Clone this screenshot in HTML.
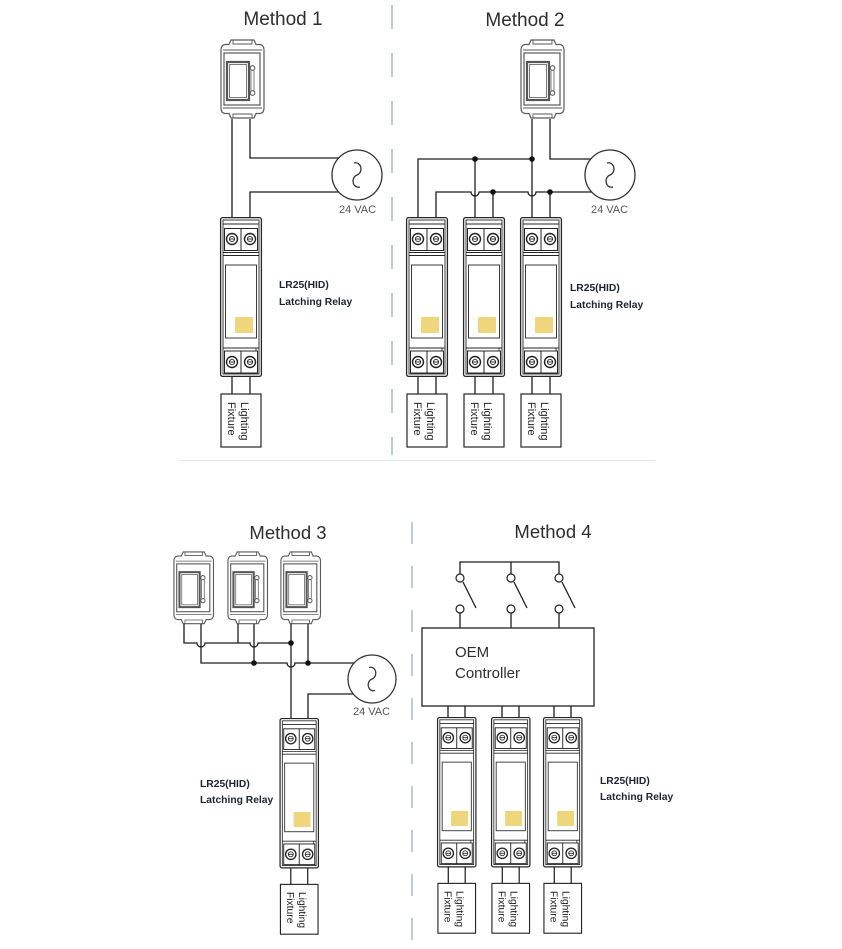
<!DOCTYPE html>
<html><head><meta charset="utf-8"><title>Wiring Methods</title>
<style>
html,body{margin:0;padding:0;background:#fff;width:842px;height:949px;overflow:hidden}
svg{display:block}
.t{font-family:"Liberation Sans",Arial,sans-serif;fill:#2e2e2e}
.lbl{font-family:"Liberation Sans",Arial,sans-serif;font-weight:bold;font-size:10.3px;fill:#1c2430}
.vac{font-family:"Liberation Sans",Arial,sans-serif;font-size:11px;fill:#555}
.fx{font-family:"Liberation Sans",Arial,sans-serif;font-size:11px;fill:#222}
.w{fill:none;stroke:#1e1e1e;stroke-width:1.3}
</style></head><body>
<svg width="842" height="949" viewBox="0 0 842 949" xmlns="http://www.w3.org/2000/svg">
<defs>
<g id="sw" fill="none" stroke="#5a5a5a">
 <path d="M1,11 Q1,6 5,5.5 L9,5.5 L11,1 L34,1 L36,5.5 L40,5.5 Q44,6 44,11 L44,69 Q44,74 40,74.5 L36,74.5 L34,79 L11,79 L9,74.5 L5,74.5 Q1,74 1,69 Z" fill="#fff" stroke-width="1.2"/>
 <path d="M13,1 V5 H32 V1 M13,79 V75 H32 V79" stroke-width="0.9"/>
 <path d="M3,11 H42 M3,69 H42" stroke-width="0.9"/>
 <rect x="4" y="14" width="36" height="52" stroke-width="1.2"/>
 <rect x="7" y="23" width="22" height="38" stroke="#555" stroke-width="2.2"/>
 <rect x="9.5" y="25.5" width="17" height="33" stroke-width="0.8"/>
 <circle cx="32.5" cy="29" r="2.3" stroke-width="1.1"/>
 <circle cx="32.5" cy="54" r="2.3" stroke-width="1.1"/>
 <path d="M31,31.5 V51.5 M34,31.5 V51.5" stroke-width="0.8"/>
</g>
<g id="ac">
 <circle r="25" fill="#fff" stroke="#333" stroke-width="1.3"/>
 <path d="M-3,-12 C4,-14 7,-3 0,0 C-7,3 -4,14 3,12" fill="none" stroke="#333" stroke-width="1.3"/>
</g>
<g id="screw">
 <circle r="5.5" fill="#fff" stroke="#222" stroke-width="1.4"/>
 <circle r="2.6" fill="none" stroke="#222" stroke-width="0.9"/>
 <path d="M-2.6,0 H2.6" stroke="#222" stroke-width="0.9"/>
</g>
<g id="relay" fill="none" stroke="#262626">
 <rect x="0.6" y="0.6" width="40.8" height="158.8" rx="2" fill="#fff" stroke-width="1.3"/>
 <rect x="3" y="3" width="36" height="154" stroke-width="0.9"/>
 <path d="M3,7 H39" stroke-width="0.9"/>
 <rect x="4.5" y="11.5" width="33" height="22" stroke-width="1"/>
 <path d="M21,11.5 V33.5" stroke-width="1"/>
 <path d="M3,35.5 H39 M3,38.5 H39" stroke-width="0.9"/>
 <rect x="5.5" y="48" width="31" height="73" stroke-width="0.9"/>
 <path d="M3,131 H39" stroke-width="0.9"/>
 <rect x="4.5" y="134" width="33" height="22" stroke-width="1"/>
 <path d="M21,134 V156" stroke-width="1"/>
 <path d="M36,131 V134" stroke-width="0.8"/>
 <rect x="15" y="100" width="18" height="16" rx="1" fill="#efd57c" stroke="none"/>
 <use href="#screw" x="12" y="22"/>
 <use href="#screw" x="30" y="22"/>
 <use href="#screw" x="12" y="145"/>
 <use href="#screw" x="30" y="145"/>
 <path d="M12,160 V177 M30,160 V177" stroke="#1e1e1e" stroke-width="1.3"/>
 <rect x="1" y="177" width="40" height="53" fill="#fff" stroke-width="1.2"/>
</g>
</defs>

<!-- separators -->
<line x1="392" y1="5" x2="392" y2="455" stroke="#c3cbd2" stroke-width="2" stroke-dasharray="24 24"/>
<line x1="178" y1="460.5" x2="655" y2="460.5" stroke="#e4e8ec" stroke-width="1"/>
<line x1="412" y1="522" x2="412" y2="949" stroke="#c3cbd2" stroke-width="2" stroke-dasharray="22 22"/>

<!-- ============ Method 1 ============ -->
<text class="t" x="283" y="25" font-size="19" text-anchor="middle">Method 1</text>
<use href="#sw" transform="translate(220,39)"/>
<path class="w" d="M232,119 V217 M250,119 V158 H339 M339,192 H250 V217"/>
<use href="#ac" transform="translate(357,175)"/>
<text class="vac" x="339" y="213">24 VAC</text>
<g transform="translate(220,217)">
 <use href="#relay"/>
 <text class="fx" transform="translate(21,185) rotate(90)">Lighting</text>
 <text class="fx" transform="translate(8,185) rotate(90)">Fixture</text>
</g>
<text class="lbl" x="279" y="288">LR25(HID)</text>
<text class="lbl" x="279" y="305">Latching Relay</text>

<!-- ============ Method 2 ============ -->
<text class="t" x="525" y="26" font-size="19" text-anchor="middle">Method 2</text>
<use href="#sw" transform="translate(520,39)"/>
<path class="w" d="M532,119 V217 M550,119 V159 H591 M418,217 V159 H532 M475,159 V217
 M436,217 V192 H471 A4,4 0 0 0 479,192 H528 A4,4 0 0 0 536,192 H592
 M493,192 V217 M550,192 V217"/>
<circle cx="475" cy="159" r="2.8" fill="#111"/>
<circle cx="532" cy="159" r="2.8" fill="#111"/>
<circle cx="493" cy="192" r="2.8" fill="#111"/>
<circle cx="550" cy="192" r="2.8" fill="#111"/>
<use href="#ac" transform="translate(610,175)"/>
<text class="vac" x="591" y="213">24 VAC</text>
<g transform="translate(406,217)">
 <use href="#relay"/>
 <text class="fx" transform="translate(21,185) rotate(90)">Lighting</text>
 <text class="fx" transform="translate(8,185) rotate(90)">Fixture</text>
</g>
<g transform="translate(463,217)">
 <use href="#relay"/>
 <text class="fx" transform="translate(21,185) rotate(90)">Lighting</text>
 <text class="fx" transform="translate(8,185) rotate(90)">Fixture</text>
</g>
<g transform="translate(520,217)">
 <use href="#relay"/>
 <text class="fx" transform="translate(21,185) rotate(90)">Lighting</text>
 <text class="fx" transform="translate(8,185) rotate(90)">Fixture</text>
</g>
<text class="lbl" x="570" y="291">LR25(HID)</text>
<text class="lbl" x="570" y="308">Latching Relay</text>

<!-- ============ Method 3 ============ -->
<text class="t" x="288" y="539" font-size="18.5" text-anchor="middle">Method 3</text>
<use href="#sw" transform="translate(173,551) scale(0.92)"/>
<use href="#sw" transform="translate(227,551) scale(0.92)"/>
<use href="#sw" transform="translate(280,551) scale(0.92)"/>
<path class="w" d="M184,624 V643 H197 A4,4 0 0 0 205,643 H250 A4,4 0 0 0 258,643 H291
 M201,624 V663 H287 A4,4 0 0 0 295,663 H354
 M238,624 V643 M254,624 V663 M291,624 V718 M308,624 V663
 M353,694 H308 V718"/>
<circle cx="291" cy="643" r="2.8" fill="#111"/>
<circle cx="254" cy="663" r="2.8" fill="#111"/>
<circle cx="308" cy="663" r="2.8" fill="#111"/>
<use href="#ac" transform="translate(372,679) scale(0.96)"/>
<text class="vac" x="353" y="715">24 VAC</text>
<g transform="translate(279.5,718) scale(0.94)">
 <use href="#relay"/>
 <text class="fx" transform="translate(21,185) rotate(90)">Lighting</text>
 <text class="fx" transform="translate(8,185) rotate(90)">Fixture</text>
</g>
<text class="lbl" x="200" y="787">LR25(HID)</text>
<text class="lbl" x="200" y="803">Latching Relay</text>

<!-- ============ Method 4 ============ -->
<text class="t" x="553" y="538" font-size="18.5" text-anchor="middle">Method 4</text>
<path class="w" d="M460,574 V562 H559 V574 M511,562 V574
 M460,613 V628 M511,613 V628 M559,613 V628
 M463,582 L476,608 M514,582 L527,608 M562,582 L575,608"/>
<g fill="#fff" stroke="#222" stroke-width="1.2">
 <circle cx="460" cy="578" r="4"/><circle cx="511" cy="578" r="4"/><circle cx="559" cy="578" r="4"/>
 <circle cx="460" cy="609" r="4"/><circle cx="511" cy="609" r="4"/><circle cx="559" cy="609" r="4"/>
</g>
<rect x="422" y="628" width="172" height="78" fill="#fff" stroke="#222" stroke-width="1.3"/>
<text class="t" x="455" y="657" font-size="15" fill="#222">OEM</text>
<text class="t" x="455" y="678" font-size="15" fill="#222">Controller</text>
<path class="w" d="M448,706 V717 M465,706 V717 M502,706 V717 M519,706 V717 M554,706 V717 M571,706 V717"/>
<g transform="translate(437,717) scale(0.94)">
 <use href="#relay"/>
 <text class="fx" transform="translate(21,185) rotate(90)">Lighting</text>
 <text class="fx" transform="translate(8,185) rotate(90)">Fixture</text>
</g>
<g transform="translate(491,717) scale(0.94)">
 <use href="#relay"/>
 <text class="fx" transform="translate(21,185) rotate(90)">Lighting</text>
 <text class="fx" transform="translate(8,185) rotate(90)">Fixture</text>
</g>
<g transform="translate(543,717) scale(0.94)">
 <use href="#relay"/>
 <text class="fx" transform="translate(21,185) rotate(90)">Lighting</text>
 <text class="fx" transform="translate(8,185) rotate(90)">Fixture</text>
</g>
<text class="lbl" x="600" y="784">LR25(HID)</text>
<text class="lbl" x="600" y="800">Latching Relay</text>
</svg>
</body></html>
